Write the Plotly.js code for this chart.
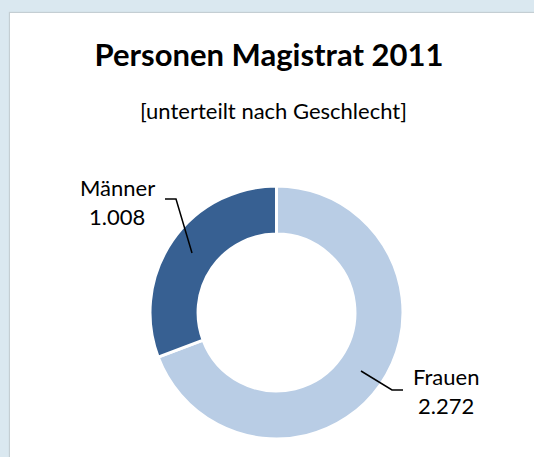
<!DOCTYPE html>
<html>
<head>
<meta charset="utf-8">
<script src="https://cdn.plot.ly/plotly-3.0.1.min.js"></script>
<style>
html,body{margin:0;padding:0;background:#dae8f0;overflow:hidden;}
#wrap{position:relative;width:534px;height:457px;overflow:hidden;}
#panel{position:absolute;left:10px;top:13px;width:560px;height:480px;background:#fff;box-shadow:-1px -1px 1px #c4ced3;}
#chart{position:absolute;left:0;top:0;width:534px;height:457px;}
</style>
</head>
<body>
<div id="wrap"><div id="panel"></div><div id="chart"></div></div>
<script>
const categories = ['Frauen', 'Männer'];
const values = [2272, 1008];
const sliceColors = ['#b9cde5', '#376092'];
const titleText = 'Personen Magistrat 2011';
const subtitleText = '[unterteilt nach Geschlecht]';

const W = 534, H = 457;
const px = x => x / W;
const py = y => 1 - y / H;
const fmt = v => String(v).replace(/\B(?=(\d{3})+(?!\d))/g, '.');

// label anchor positions (pixels) for each category: [x, nameY, valueY]
const labelPos = { 'Frauen': [446, 376, 405], 'Männer': [117, 187, 216] };
const leaders = {
  'Frauen': [[361, 371], [392, 390], [403, 390]],
  'Männer': [[165, 199], [176, 199], [192, 253]]
};
const FONT = 'Lato, sans-serif';

const annotations = [];
categories.forEach((c, i) => {
  const [x, y1, y2] = labelPos[c];
  annotations.push({ text: c, x: px(x), y: py(y1), xref: 'paper', yref: 'paper', xanchor: 'center', yanchor: 'middle', showarrow: false, font: { family: FONT, size: 22, color: '#000' } });
  annotations.push({ text: fmt(values[i]), x: px(x), y: py(y2), xref: 'paper', yref: 'paper', xanchor: 'center', yanchor: 'middle', showarrow: false, font: { family: FONT, size: 22, color: '#000' } });
});
annotations.push({ text: subtitleText, x: px(273), y: py(110), xref: 'paper', yref: 'paper', xanchor: 'center', yanchor: 'middle', showarrow: false, font: { family: FONT, size: 22, color: '#000' } });

const shapes = [];
categories.forEach(c => {
  const pts = leaders[c];
  const d = pts.map((p, k) => (k ? 'L' : 'M') + ' ' + px(p[0]) + ' ' + py(p[1])).join(' ');
  shapes.push({ type: 'path', xref: 'paper', yref: 'paper', path: d, line: { color: '#000', width: 1.5 } });
});

const cx = 276.5, cy = 312.5, r = 126.5;
const trace = {
  type: 'pie',
  labels: categories,
  values: values,
  sort: false,
  direction: 'clockwise',
  rotation: 0,
  hole: 0.62,
  textinfo: 'none',
  hoverinfo: 'label+value',
  marker: { colors: sliceColors, line: { color: '#ffffff', width: 3 } },
  domain: { x: [px(cx - r), px(cx + r)], y: [py(cy + r), py(cy - r)] },
  showlegend: false
};

const layout = {
  width: W, height: H,
  margin: { l: 0, r: 0, t: 0, b: 0 },
  paper_bgcolor: 'rgba(0,0,0,0)',
  plot_bgcolor: 'rgba(0,0,0,0)',
  title: { text: '<b>' + titleText + '</b>', x: px(269), xanchor: 'center', xref: 'paper', y: py(55), yanchor: 'middle', yref: 'paper', font: { family: FONT, size: 31, color: '#000' } },
  annotations: annotations,
  shapes: shapes,
  showlegend: false
};

Plotly.newPlot('chart', [trace], layout, { displayModeBar: false, staticPlot: true });
</script>
</body>
</html>
